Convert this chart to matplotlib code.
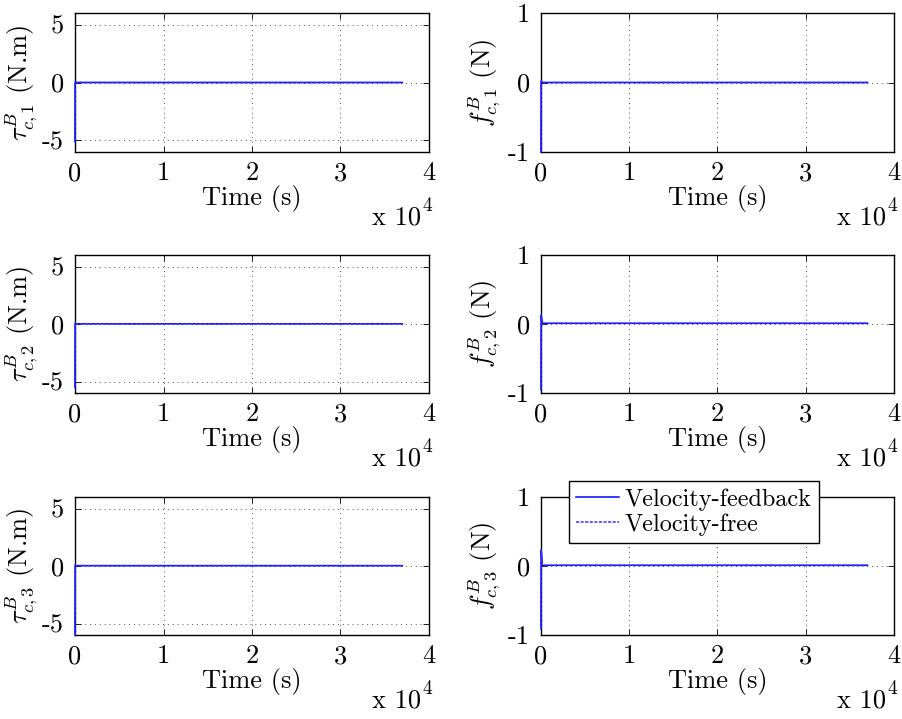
import matplotlib
matplotlib.use("Agg")
import matplotlib.pyplot as plt
import numpy as np

plt.rcParams['font.family'] = 'serif'
plt.rcParams['font.serif'] = ['cmr10', 'DejaVu Serif']
plt.rcParams['mathtext.fontset'] = 'cm'
plt.rcParams['axes.unicode_minus'] = False
plt.rcParams['axes.formatter.use_mathtext'] = True

# ---- data ----
time = [0.0, 20.0, 150.0, 37000.0]

tau1_fb = [-5.1, 0.02, 0.0, 0.0]
tau1_vf = [-5.1, 0.02, 0.0, 0.0]
tau2_fb = [-5.5, 0.05, 0.02, 0.02]
tau2_vf = [-5.5, 0.05, 0.02, 0.02]
tau3_fb = [-6.0, 0.05, 0.03, 0.03]
tau3_vf = [-6.0, 0.05, 0.03, 0.03]

f1_fb = [-1.0, 0.02, 0.0, 0.0]
f1_vf = [-1.0, 0.02, 0.0, 0.0]
f2_fb = [-0.95, 0.13, 0.01, 0.01]
f2_vf = [-0.95, 0.13, 0.01, 0.01]
f3_fb = [-0.91, 0.23, 0.01, 0.01]
f3_vf = [-0.91, 0.23, 0.01, 0.01]

xticks = [0, 10000, 20000, 30000, 40000]
xticklabels = ['0', '1', '2', '3', '4']
tau_ticks = [-5, 0, 5]
tau_ticklabels = ['-5', '0', '5']
f_ticks = [-1, 0, 1]
f_ticklabels = ['-1', '0', '1']

tau_labels = [r'$\tau^{B}_{c,1}$ (N.m)', r'$\tau^{B}_{c,2}$ (N.m)', r'$\tau^{B}_{c,3}$ (N.m)']
f_labels = [r'$f^{B}_{c,1}$ (N)', r'$f^{B}_{c,2}$ (N)', r'$f^{B}_{c,3}$ (N)']
legend_labels = ['Velocity-feedback', 'Velocity-free']

W, H = 903, 719
fig = plt.figure(figsize=(W / 100, H / 100), dpi=100)

FS = 19

col_x = [(75, 429), (541, 894)]
row_y = [(13, 152), (255, 393), (497, 635)]

tau_fb = [tau1_fb, tau2_fb, tau3_fb]
tau_vf = [tau1_vf, tau2_vf, tau3_vf]
f_fb = [f1_fb, f2_fb, f3_fb]
f_vf = [f1_vf, f2_vf, f3_vf]

axes = {}
for r in range(3):
    for c in range(2):
        x0, x1 = col_x[c]
        y0, y1 = row_y[r]
        ax = fig.add_axes([x0 / W, 1 - y1 / H, (x1 - x0) / W, (y1 - y0) / H])
        axes[(r, c)] = ax
        if c == 0:
            fb, vf = tau_fb[r], tau_vf[r]
            ax.set_ylim(-6, 6)
            ax.set_yticks(tau_ticks)
            ax.set_yticklabels(tau_ticklabels)
            ax.set_ylabel(tau_labels[r], fontsize=FS, labelpad=2)
        else:
            fb, vf = f_fb[r], f_vf[r]
            ax.set_ylim(-1, 1)
            ax.set_yticks(f_ticks)
            ax.set_yticklabels(f_ticklabels)
            ax.set_ylabel(f_labels[r], fontsize=FS, labelpad=4)
        l1, = ax.plot(time, fb, color=(0, 0, 1), lw=1.1, ls='-', zorder=3, clip_on=False)
        l2, = ax.plot(time, vf, color=(0.2, 0.2, 1), lw=1.1, ls=(0, (2, 1)), zorder=3,
                      clip_on=False)
        ax.set_xlim(0, 40000)
        ax.set_xticks(xticks)
        ax.set_xticklabels(xticklabels)
        ax.set_xlabel('Time (s)', fontsize=FS, labelpad=0)
        ax.tick_params(axis='x', pad=7)
        ax.tick_params(axis='y', pad=8)
        ax.tick_params(direction='in', top=True, right=True, length=4, width=0.6,
                       labelsize=FS)
        ax.grid(True, ls=(0, (1, 4)), color='0.3', lw=0.7)
        for s in ax.spines.values():
            s.set_linewidth(1.0)
        # multiplier text
        fig.text((x1 - 8) / W, 1 - (y1 + 66) / H, 'x 10', fontsize=FS,
                 ha='right', va='center')
        fig.text((x1 - 6) / W, 1 - (y1 + 54) / H, '4', fontsize=FS - 5,
                 ha='left', va='center')

ax = axes[(2, 1)]
handles = ax.get_lines()
leg = fig.legend(handles, legend_labels, loc='upper left',
                 bbox_to_anchor=(569 / W, 1 - 481 / H), bbox_transform=fig.transFigure,
                 fontsize=17.5, frameon=True, fancybox=False, framealpha=1,
                 edgecolor='black', handlelength=1.75, handletextpad=0.25,
                 borderpad=0.3, labelspacing=0.1, borderaxespad=0)
leg.get_frame().set_linewidth(1.0)

fig.savefig('out.png', dpi=100)
